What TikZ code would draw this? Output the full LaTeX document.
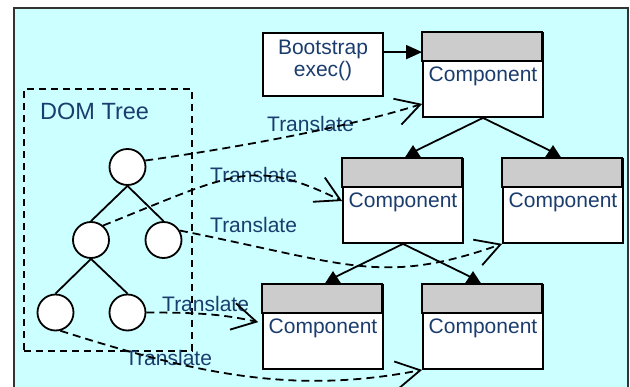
\documentclass[tikz,border=0pt]{standalone}
\usepackage{fontspec}
\setmainfont{Liberation Sans}
\usetikzlibrary{arrows.meta,calc}
\definecolor{panelbg}{HTML}{CCFFFF}
\definecolor{headgray}{HTML}{CCCCCC}
\definecolor{inkblue}{HTML}{1B3D6E}
\definecolor{framegray}{HTML}{333333}

% one component: box, grey title bar and its caption
\newcommand\drawcomp[2]{%
  \node[compbox] (#1) at (#2) {};
  \draw[comphead] (#1.north west) rectangle ($(#1.north west)+(120,29)$);
  \node[lbl, anchor=base] (#1-text) at ($(#1.north)+(0,49)$) {Component};
}
% filled triangle standing on a box edge, #1 = middle of its base
\newcommand\uptri[1]{\fill (#1) -- ++(8.5,0) -- ++(-8.5,-13) -- ++(-8.5,13) -- cycle;}

\begin{document}
\begin{tikzpicture}[x=1pt,y=-1pt,
  treeline/.style={line width=1.8pt},
  domnode/.style={circle, draw, fill=white, line width=1.8pt, minimum size=36pt, inner sep=0pt},
  compbox/.style={draw, fill=white, line width=1.8pt, minimum width=120pt, minimum height=84pt, inner sep=0pt},
  comphead/.style={draw, fill=headgray, line width=1.8pt},
  lbl/.style={text=inkblue, font=\fontsize{21}{21.5}\selectfont, inner sep=0pt},
  translate/.style={line width=1.8pt, dash pattern=on 8pt off 5pt,
    -{Straight Barb[length=24pt,width=27pt]}},
]
\clip (0,0) rectangle (630,387);
% panel
\draw[fill=panelbg, draw=framegray, line width=2pt] (14,8) rectangle (628,400);

% DOM tree
\node[draw, line width=1.7pt, dash pattern=on 7pt off 5pt, minimum width=168pt,
      minimum height=262pt, inner sep=0pt, anchor=north west] (dom) at (23,88) {};
\node[lbl, font=\fontsize{23.5}{26}\selectfont, anchor=base west] (domtitle) at (40,120) {DOM Tree};

\node[domnode] (n0) at (127.5,167) {};
\node[domnode] (n1) at (91,240) {};
\node[domnode] (n2) at (163.5,240) {};
\node[domnode] (n3) at (55.5,312.5) {};
\node[domnode] (n4) at (127.5,312.5) {};
\draw[treeline] (n0.south) -- (n1.north);
\draw[treeline] (n0.south) -- (n2.north);
\draw[treeline] (n1.south) -- (n3.north);
\draw[treeline] (n1.south) -- (n4.north);

% bootstrap
\node[compbox, minimum height=63pt] (boot) at (323,64.5) {};
\node[lbl, align=center] (boot-text) at (323,60.5) {Bootstrap\\exec()};

% components
\drawcomp{c1}{483,75}
\drawcomp{c2}{403,201}
\drawcomp{c3}{563,201}
\drawcomp{c4}{323,327}
\drawcomp{c5}{483,327}

\draw[treeline, -{Triangle[length=16pt,width=14pt]}]
  ($(boot.north east)+(0,20)$) -- ($(c1.north west)+(0,20)$);

\coordinate (t2) at ($(c2.north)+(10,0)$);
\coordinate (t3) at ($(c3.north)+(-10,0)$);
\coordinate (t4) at ($(c4.north)+(10,0)$);
\coordinate (t5) at ($(c5.north)+(-10,0)$);
\draw[treeline] (c1.south) -- ($(t2)+(0,-6)$);
\draw[treeline] (c1.south) -- ($(t3)+(0,-6)$);
\draw[treeline] (c2.south) -- ($(t4)+(0,-6)$);
\draw[treeline] (c2.south) -- ($(t5)+(0,-6)$);
\uptri{t2}\uptri{t3}\uptri{t4}\uptri{t5}

% translation labels
\node[lbl, anchor=base west] (l1) at (267,132) {Translate};
\node[lbl, anchor=base west] (l2) at (210,183) {Translate};
\node[lbl, anchor=base west] (l3) at (210,233) {Translate};
\node[lbl, anchor=base west] (l4) at (162,312) {Translate};
\node[lbl, anchor=base west] (l5) at (125,366) {Translate};

% translations from DOM nodes to components
\draw[translate] (n0.20) .. controls +(100,-14) and +(-70,22) .. ($(c1.south west)+(0,-14)$);
\draw[translate] (n1.50) .. controls +(130,-52) and +(-90,-44) .. (c2.west);
\draw[translate] (n2.30) .. controls +(170,34) and +(-120,42) .. (c3.south west);
\draw[translate, shorten >=4pt] (n4.east) .. controls +(50,0) and +(-40,-9) .. ($(c4.west)+(0,-4)$);
\draw[translate] (n3.-75) .. controls +(150,48) and +(-120,23) .. (c5.south west);
\end{tikzpicture}
\end{document}
